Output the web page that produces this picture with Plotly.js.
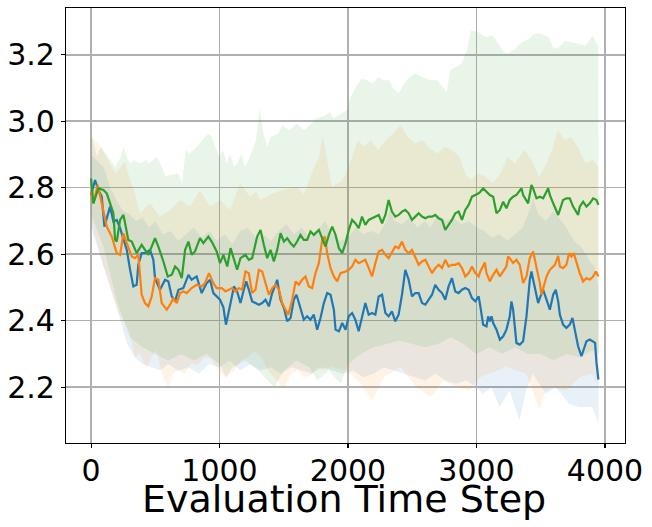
<!DOCTYPE html>
<html>
<head>
<meta charset="utf-8">
<script src="https://cdn.plot.ly/plotly-3.0.1.min.js"></script>
<style>
  html, body { margin: 0; padding: 0; background: #ffffff; }
  #chart { width: 652px; height: 527px; }
</style>
</head>
<body>
<div id="chart"></div>
<script>
// ---------------- data ----------------
const blueStep = [0,31,57,83,104,148,174,200,226,252,278,304,329,355,368,394,420,459,485,498,537,576,602,628,654,680,718,758,783,822,861,900,926,952,1004,1030,1050,1086,1112,1137,1163,1189,1208,1228,1254,1280,1306,1332,1358,1384,1410,1449,1475,1501,1527,1553,1578,1599,1630,1656,1682,1708,1734,1760,1786,1812,1838,1864,1890,1903,1929,1955,1981,2006,2032,2057,2083,2109,2135,2161,2187,2213,2239,2265,2291,2316,2342,2368,2394,2420,2446,2472,2498,2524,2550,2576,2602,2628,2654,2679,2705,2732,2757,2783,2809,2835,2861,2887,2913,2939,2965,2991,3017,3030,3052,3078,3091,3104,3117,3130,3156,3182,3208,3233,3259,3272,3285,3311,3337,3363,3389,3415,3428,3441,3467,3480,3493,3519,3545,3571,3597,3617,3636,3649,3674,3700,3726,3747,3765,3791,3817,3830,3856,3882,3908,3923,3934,3949];
const blueValue = [2.778,2.823,2.793,2.773,2.683,2.743,2.698,2.703,2.678,2.648,2.613,2.553,2.503,2.508,2.568,2.603,2.603,2.613,2.583,2.528,2.493,2.523,2.518,2.473,2.458,2.493,2.498,2.538,2.523,2.533,2.483,2.513,2.523,2.483,2.463,2.440,2.388,2.453,2.503,2.488,2.453,2.493,2.518,2.493,2.458,2.453,2.448,2.453,2.463,2.443,2.483,2.523,2.463,2.438,2.398,2.408,2.463,2.478,2.433,2.403,2.413,2.403,2.418,2.373,2.408,2.453,2.483,2.478,2.433,2.373,2.368,2.393,2.373,2.413,2.423,2.403,2.368,2.413,2.453,2.418,2.423,2.418,2.473,2.478,2.423,2.413,2.428,2.398,2.418,2.478,2.553,2.523,2.473,2.483,2.483,2.453,2.448,2.463,2.478,2.508,2.493,2.483,2.463,2.503,2.528,2.488,2.483,2.493,2.498,2.493,2.468,2.458,2.473,2.443,2.388,2.383,2.413,2.398,2.413,2.393,2.373,2.343,2.353,2.373,2.413,2.458,2.433,2.333,2.328,2.338,2.413,2.523,2.548,2.523,2.473,2.453,2.468,2.493,2.463,2.433,2.478,2.493,2.458,2.418,2.388,2.378,2.388,2.408,2.373,2.323,2.293,2.308,2.338,2.343,2.338,2.333,2.273,2.223];

const orangeStep = [0,18,52,70,96,122,161,200,226,252,278,317,342,368,394,420,446,472,498,524,550,589,615,641,667,693,718,745,783,822,861,887,918,952,978,1017,1047,1073,1099,1125,1150,1176,1202,1228,1254,1280,1306,1332,1358,1384,1410,1436,1462,1488,1514,1534,1566,1592,1617,1643,1669,1695,1721,1747,1773,1799,1820,1838,1864,1890,1916,1942,1981,2006,2032,2057,2083,2109,2135,2161,2187,2213,2239,2265,2291,2316,2342,2368,2394,2420,2446,2472,2498,2524,2550,2576,2602,2628,2654,2679,2705,2732,2757,2783,2809,2835,2861,2887,2913,2939,2965,2991,3017,3030,3065,3078,3104,3130,3156,3182,3208,3233,3246,3259,3285,3311,3337,3363,3389,3415,3441,3467,3493,3506,3519,3545,3571,3610,3636,3649,3674,3700,3721,3739,3757,3778,3804,3830,3856,3882,3908,3929,3949];
const orangeValue = [2.788,2.753,2.808,2.773,2.723,2.683,2.653,2.603,2.598,2.663,2.633,2.593,2.588,2.598,2.478,2.453,2.443,2.473,2.528,2.523,2.453,2.433,2.448,2.468,2.453,2.483,2.488,2.483,2.498,2.508,2.503,2.513,2.543,2.513,2.498,2.498,2.488,2.493,2.498,2.488,2.498,2.493,2.548,2.543,2.483,2.493,2.553,2.548,2.513,2.478,2.498,2.508,2.493,2.453,2.433,2.418,2.463,2.518,2.508,2.523,2.533,2.503,2.498,2.543,2.573,2.643,2.653,2.603,2.558,2.533,2.518,2.543,2.548,2.553,2.563,2.583,2.573,2.578,2.583,2.558,2.533,2.573,2.608,2.613,2.598,2.588,2.608,2.623,2.618,2.638,2.613,2.603,2.613,2.593,2.568,2.578,2.583,2.563,2.543,2.558,2.568,2.558,2.583,2.563,2.568,2.568,2.573,2.558,2.533,2.543,2.563,2.543,2.533,2.548,2.575,2.543,2.518,2.538,2.553,2.533,2.548,2.563,2.593,2.588,2.573,2.583,2.568,2.513,2.533,2.588,2.608,2.563,2.513,2.478,2.498,2.533,2.553,2.568,2.595,2.563,2.558,2.568,2.603,2.593,2.603,2.573,2.543,2.518,2.528,2.523,2.533,2.548,2.533];

const greenStep = [0,18,57,96,122,148,174,187,200,226,252,265,290,317,355,394,420,446,498,524,563,597,628,654,680,706,732,758,783,809,848,874,913,939,978,1004,1030,1060,1086,1112,1137,1163,1202,1228,1254,1293,1319,1345,1371,1397,1423,1449,1475,1501,1527,1553,1578,1604,1630,1656,1682,1708,1734,1773,1799,1825,1851,1877,1903,1929,1955,1981,2006,2032,2057,2083,2109,2135,2161,2187,2213,2239,2265,2291,2316,2342,2368,2394,2420,2446,2472,2498,2524,2550,2576,2602,2628,2654,2679,2705,2732,2757,2783,2809,2835,2861,2887,2913,2939,2965,2991,3017,3030,3052,3078,3104,3130,3156,3182,3208,3233,3259,3285,3311,3350,3363,3402,3428,3441,3467,3493,3519,3558,3571,3597,3636,3649,3674,3700,3726,3752,3791,3804,3830,3856,3882,3908,3934,3949];
const greenValue = [2.828,2.753,2.798,2.793,2.783,2.753,2.723,2.643,2.638,2.703,2.718,2.693,2.643,2.638,2.603,2.628,2.613,2.598,2.648,2.623,2.578,2.533,2.538,2.563,2.553,2.528,2.613,2.638,2.598,2.608,2.648,2.633,2.653,2.638,2.608,2.573,2.598,2.563,2.618,2.583,2.553,2.588,2.598,2.583,2.588,2.653,2.673,2.628,2.588,2.613,2.578,2.613,2.663,2.638,2.648,2.633,2.623,2.638,2.658,2.643,2.643,2.668,2.658,2.673,2.648,2.623,2.658,2.683,2.658,2.618,2.603,2.633,2.673,2.703,2.693,2.678,2.713,2.688,2.703,2.708,2.713,2.718,2.693,2.718,2.763,2.728,2.713,2.718,2.728,2.733,2.723,2.703,2.713,2.723,2.713,2.708,2.713,2.713,2.718,2.708,2.703,2.673,2.688,2.703,2.723,2.728,2.703,2.733,2.748,2.773,2.778,2.783,2.788,2.798,2.788,2.778,2.773,2.723,2.733,2.758,2.738,2.763,2.773,2.778,2.798,2.778,2.753,2.808,2.798,2.768,2.773,2.768,2.798,2.778,2.753,2.718,2.733,2.763,2.768,2.768,2.743,2.718,2.743,2.758,2.743,2.753,2.768,2.763,2.748];

// shaded spread of each series: upper edge and lower edge
const blueUpperStep  = [0,100,150,200,250,300,350,400,450,500,560,620,680,740,800,860,920,980,1040,1100,1160,1220,1280,1340,1400,1460,1520,1580,1640,1700,1760,1820,1880,1940,2000,2060,2120,2180,2240,2300,2330,2360,2420,2480,2540,2600,2640,2700,2760,2820,2880,2940,3000,3060,3120,3180,3240,3300,3360,3420,3440,3480,3540,3600,3660,3700,3760,3820,3880,3920,3950];
const blueUpperValue = [2.90,2.86,2.80,2.76,2.73,2.72,2.70,2.71,2.68,2.70,2.66,2.67,2.64,2.66,2.68,2.65,2.67,2.64,2.66,2.63,2.67,2.68,2.65,2.66,2.64,2.67,2.69,2.66,2.68,2.65,2.67,2.70,2.66,2.64,2.65,2.68,2.66,2.67,2.66,2.70,2.74,2.70,2.69,2.71,2.68,2.70,2.68,2.72,2.70,2.71,2.69,2.70,2.68,2.67,2.65,2.66,2.64,2.66,2.68,2.74,2.77,2.72,2.70,2.73,2.70,2.68,2.64,2.62,2.58,2.56,2.50];
const blueLowerStep  = [0,100,200,280,341,400,470,540,600,680,760,840,920,1000,1080,1160,1240,1320,1400,1480,1560,1640,1720,1800,1880,1960,2040,2120,2200,2280,2360,2440,2520,2600,2680,2760,2840,2920,3000,3051,3116,3180,3258,3335,3386,3438,3541,3618,3721,3799,3902,3950];
const blueLowerValue = [2.68,2.56,2.44,2.33,2.29,2.27,2.26,2.25,2.27,2.25,2.26,2.24,2.27,2.26,2.28,2.25,2.27,2.25,2.26,2.24,2.26,2.25,2.24,2.26,2.25,2.24,2.25,2.23,2.24,2.26,2.25,2.24,2.23,2.22,2.24,2.22,2.21,2.22,2.20,2.18,2.20,2.14,2.19,2.10,2.19,2.24,2.18,2.20,2.15,2.14,2.14,2.09];

const orangeUpperStep  = [0,32,75,132,190,233,262,305,334,381,459,537,615,693,770,848,926,1004,1082,1160,1238,1284,1316,1400,1486,1601,1659,1716,1774,1803,1832,1875,1947,1990,2033,2076,2120,2177,2235,2292,2350,2408,2465,2523,2580,2638,2696,2753,2811,2868,2911,2955,3012,3070,3128,3185,3243,3300,3372,3430,3488,3545,3588,3632,3689,3732,3790,3848,3905,3948];
const orangeUpperValue = [2.953,2.943,2.923,2.883,2.843,2.863,2.878,2.823,2.793,2.723,2.753,2.713,2.733,2.763,2.743,2.793,2.743,2.763,2.733,2.813,2.773,2.788,2.763,2.780,2.793,2.803,2.780,2.843,2.893,2.958,2.893,2.803,2.818,2.848,2.893,2.943,2.923,2.943,2.913,2.943,2.963,2.988,2.953,2.933,2.943,2.918,2.903,2.923,2.913,2.893,2.843,2.823,2.843,2.833,2.813,2.843,2.893,2.873,2.913,2.883,2.833,2.873,2.913,2.973,2.943,2.953,2.923,2.873,2.883,2.863];
const orangeLowerStep  = [0,100,212,264,302,341,380,431,470,509,561,600,638,677,729,780,832,884,935,987,1052,1116,1168,1220,1271,1323,1375,1426,1504,1556,1607,1659,1711,1762,1814,1866,1917,1969,2021,2098,2188,2278,2330,2407,2472,2536,2639,2691,2742,2845,2948,3026,3103,3232,3309,3386,3490,3541,3593,3696,3799,3902,3950];
const orangeLowerValue = [2.70,2.56,2.423,2.393,2.362,2.291,2.302,2.256,2.291,2.312,2.230,2.200,2.241,2.251,2.241,2.271,2.266,2.291,2.286,2.251,2.230,2.251,2.281,2.291,2.307,2.291,2.251,2.230,2.195,2.241,2.251,2.230,2.236,2.261,2.251,2.261,2.256,2.251,2.241,2.210,2.159,2.230,2.241,2.261,2.230,2.200,2.170,2.190,2.220,2.200,2.190,2.230,2.241,2.261,2.251,2.241,2.134,2.190,2.200,2.190,2.230,2.241,2.200];

const greenUpperStep  = [0,46,75,132,190,233,253,276,305,334,377,406,435,449,478,513,550,579,622,680,708,737,766,824,867,910,939,968,996,1025,1054,1083,1112,1140,1169,1198,1227,1256,1284,1313,1342,1371,1400,1457,1486,1544,1601,1659,1716,1745,1803,1860,1889,1947,1990,2019,2062,2105,2148,2192,2235,2278,2321,2350,2393,2436,2480,2523,2580,2638,2696,2739,2768,2796,2840,2883,2926,2955,3012,3070,3128,3185,3214,3243,3300,3358,3416,3444,3502,3560,3603,3646,3689,3732,3790,3848,3905,3948];
const greenUpperValue = [2.963,2.893,2.923,2.893,2.863,2.893,2.923,2.893,2.873,2.883,2.873,2.878,2.883,2.873,2.883,2.893,2.863,2.833,2.838,2.843,2.813,2.913,2.903,2.923,2.943,2.963,2.953,2.923,2.893,2.913,2.873,2.903,2.863,2.873,2.903,2.863,2.883,2.913,2.943,3.038,2.963,2.923,2.953,2.963,2.988,2.973,2.993,2.973,2.993,3.008,3.013,3.028,3.008,3.023,3.033,3.073,3.103,3.128,3.123,3.113,3.133,3.123,3.123,3.098,3.083,3.113,3.133,3.143,3.133,3.123,3.123,3.103,3.088,3.153,3.163,3.173,3.213,3.273,3.268,3.253,3.258,3.223,3.208,3.203,3.218,3.238,3.248,3.263,3.263,3.253,3.218,3.223,3.243,3.238,3.233,3.228,3.258,3.223];
const greenLowerStep  = [0,100,200,300,400,500,600,700,800,900,1000,1052,1100,1200,1300,1426,1500,1600,1700,1762,1850,1943,2000,2100,2200,2300,2400,2500,2600,2700,2800,2900,3000,3100,3200,3300,3400,3500,3600,3700,3800,3900,3950];
const greenLowerValue = [2.72,2.62,2.46,2.35,2.32,2.30,2.28,2.30,2.28,2.30,2.27,2.23,2.26,2.28,2.25,2.20,2.25,2.28,2.26,2.22,2.25,2.21,2.27,2.30,2.32,2.33,2.34,2.33,2.32,2.33,2.35,2.33,2.30,2.32,2.30,2.32,2.30,2.30,2.28,2.30,2.29,2.31,2.30];

const xTickVals = [0, 1000, 2000, 3000, 4000];
const yTickVals = [2.2, 2.4, 2.6, 2.8, 3.0, 3.2];
const yTickText = ['2.2', '2.4', '2.6', '2.8', '3.0', '3.2'];
const xTitle = 'Evaluation Time Step';

// ---------------- styling ----------------
const series = [
  {name: 'blue',   step: blueStep,   value: blueValue,
   upX: blueUpperStep, upY: blueUpperValue, loX: blueLowerStep, loY: blueLowerValue,
   line: '#1f77b4', fill: 'rgba(31,119,180,0.1)'},
  {name: 'orange', step: orangeStep, value: orangeValue,
   upX: orangeUpperStep, upY: orangeUpperValue, loX: orangeLowerStep, loY: orangeLowerValue,
   line: '#ff7f0e', fill: 'rgba(255,127,14,0.1)'},
  {name: 'green',  step: greenStep,  value: greenValue,
   upX: greenUpperStep, upY: greenUpperValue, loX: greenLowerStep, loY: greenLowerValue,
   line: '#2ca02c', fill: 'rgba(44,160,44,0.1)'}
];

const traces = [];
series.forEach(s => {
  traces.push({
    x: s.upX.concat(s.loX.slice().reverse()),
    y: s.upY.concat(s.loY.slice().reverse()),
    type: 'scatter', mode: 'lines', fill: 'toself', fillcolor: s.fill,
    line: {width: 0, color: 'rgba(0,0,0,0)'}, hoverinfo: 'skip', showlegend: false
  });
});
series.forEach(s => {
  traces.push({x: s.step, y: s.value, type: 'scatter', mode: 'lines', name: s.name,
               line: {color: s.line, width: 2.2}, showlegend: false});
});

const font = 'DejaVu Sans, sans-serif';
const layout = {
  width: 652, height: 527,
  margin: {l: 66, r: 27, t: 8, b: 84, pad: 0},
  paper_bgcolor: '#ffffff', plot_bgcolor: '#ffffff',
  showlegend: false,
  font: {family: font, color: '#000000'},
  xaxis: {
    range: [-195, 4156], tickvals: xTickVals, ticktext: xTickVals.map(String),
    showgrid: true, gridcolor: '#b0b0b0', gridwidth: 1.6, zeroline: false,
    showline: true, linecolor: '#000000', linewidth: 1.1, mirror: true,
    ticks: 'outside', ticklen: 4, tickwidth: 1.1, tickcolor: '#000000',
    ticklabelstandoff: -3,
    tickfont: {family: font, size: 30, color: '#000000'}
  },
  yaxis: {
    range: [2.032, 3.3405], tickvals: yTickVals, ticktext: yTickText,
    showgrid: true, gridcolor: '#b0b0b0', gridwidth: 1.6, zeroline: false,
    showline: true, linecolor: '#000000', linewidth: 1.1, mirror: true,
    ticks: 'outside', ticklen: 4, tickwidth: 1.1, tickcolor: '#000000',
    tickfont: {family: font, size: 30, color: '#000000'}
  },
  annotations: [{
    text: xTitle, xref: 'paper', yref: 'paper', x: 0.497, y: -0.128,
    xanchor: 'center', yanchor: 'middle', showarrow: false,
    font: {family: font, size: 38, color: '#000000'}
  }]
};

Plotly.newPlot('chart', traces, layout, {staticPlot: true, displayModeBar: false});
</script>
</body>
</html>
